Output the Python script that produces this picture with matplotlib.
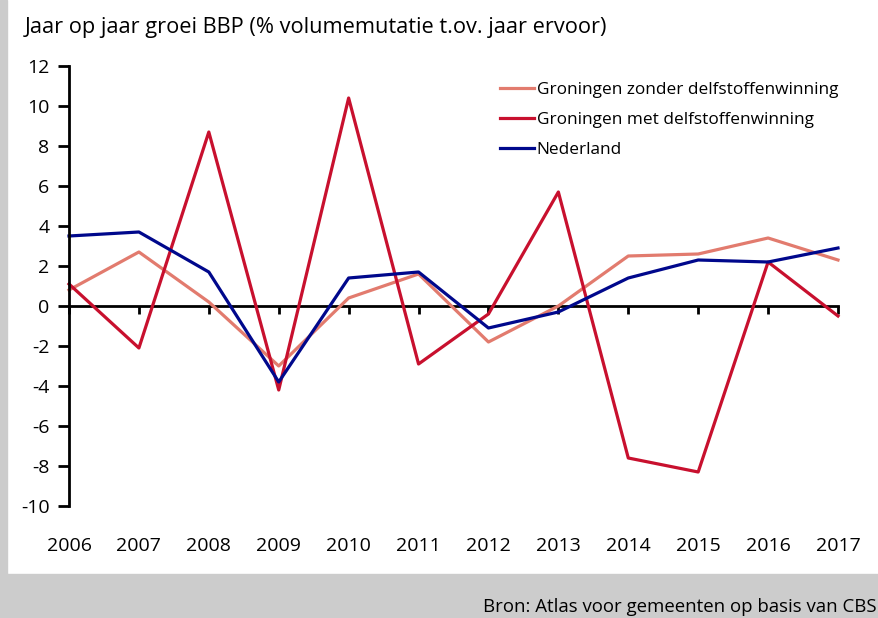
import matplotlib.pyplot as plt
from matplotlib.patches import Rectangle

plt.rcParams['font.family'] = ['Open Sans', 'DejaVu Sans']

years = list(range(2006, 2018))
zonder = [0.8, 2.7, 0.2, -3.0, 0.4, 1.6, -1.8, 0.0, 2.5, 2.6, 3.4, 2.3]
met = [1.1, -2.1, 8.7, -4.2, 10.4, -2.9, -0.4, 5.7, -7.6, -8.3, 2.2, -0.5]
nederland = [3.5, 3.7, 1.7, -3.8, 1.4, 1.7, -1.1, -0.3, 1.4, 2.3, 2.2, 2.9]
yticks = list(range(-10, 13, 2))

W, H = 879, 618
fig = plt.figure(figsize=(W / 100, H / 100), dpi=100)

# grey frame: strip on the left, band at the bottom
fig.patches.append(Rectangle((0, 0), 7 / W, 1, transform=fig.transFigure,
                             color='#cccccc', zorder=0))
fig.patches.append(Rectangle((0, 0), 1, 44 / H, transform=fig.transFigure,
                             color='#cccccc', zorder=0))

ax = fig.add_axes([69 / W, 1 - 506 / H, (838 - 69) / W, (506 - 66) / H])
ax.set_facecolor('none')

ax.plot(years, zonder, color='#e27b6e', lw=2.3, label='Groningen zonder delfstoffenwinning', clip_on=False)
ax.plot(years, met, color='#c8102e', lw=2.3, label='Groningen met delfstoffenwinning', clip_on=False)
ax.plot(years, nederland, color='#00088c', lw=2.3, label='Nederland', clip_on=False)

ax.set_xlim(2006, 2017)
ax.set_ylim(-10, 12)
ax.set_yticks(yticks)
ax.set_yticklabels([str(v) for v in yticks], fontsize=14)

for s in ['top', 'right']:
    ax.spines[s].set_visible(False)
ax.spines['left'].set_linewidth(2)
ax.spines['bottom'].set_position(('data', 0))
ax.spines['bottom'].set_linewidth(2)
ax.spines['bottom'].set_zorder(1)

ax.set_xticks(years)
ax.tick_params(axis='x', direction='out', length=6, width=2, labelbottom=False)
ax.tick_params(axis='y', direction='out', length=8, width=2, pad=6)

# year labels under the plot area
sec = ax.secondary_xaxis(0)
sec.set_xticks(years)
sec.set_xticklabels([str(y) for y in years], fontsize=14)
sec.tick_params(length=0, pad=22)
sec.spines['bottom'].set_visible(False)

ax.legend(loc='upper left', bbox_to_anchor=(0.54, 0.998), frameon=False,
          fontsize=12.4, handlelength=2.0, handletextpad=0.15, labelspacing=0.8)

fig.text(25 / W, 1 - 28 / H, 'Jaar op jaar groei BBP (% volumemutatie t.ov. jaar ervoor)',
         fontsize=15.7, va='center', ha='left')
fig.text(877 / W, 1 - 607 / H, 'Bron: Atlas voor gemeenten op basis van CBS',
         fontsize=13.4, va='center', ha='right')

fig.savefig('out.png', dpi=100)
